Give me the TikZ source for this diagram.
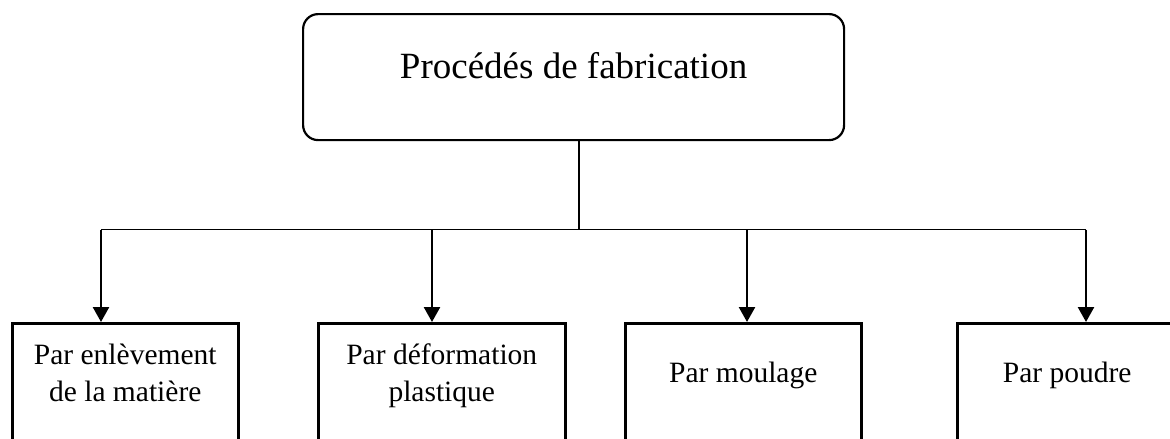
\documentclass[tikz,border=0pt]{standalone}
\usepackage{fontspec}
\setmainfont{Liberation Serif}
\usetikzlibrary{arrows.meta}
\begin{document}
\begin{tikzpicture}[x=1pt,y=-1pt,
  topbox/.style={draw, line width=2.2pt, rounded corners=15pt, inner sep=0pt,
    minimum width=541pt, text height=64pt, text depth=62pt,
    font=\fontsize{37}{44}\selectfont, align=center, anchor=north west},
  subbox/.style={draw, line width=2.5pt, inner sep=0pt, text height=78pt,
    text depth=80pt, font=\fontsize{29.5}{37}\selectfont, align=center,
    anchor=north west},
  thinline/.style={line width=1.3pt},
  arr/.style={line width=2.5pt, -{Triangle[width=16pt,length=15pt]}}]
\useasboundingbox[fill=white] (0,0) rectangle (1170,439);
\node[topbox] (top) at (302,13) {Procédés de fabrication};
\node[subbox, minimum width=226pt] (b1) at (11,322) {Par enlèvement\\de la matière};
\node[subbox, minimum width=247pt] (b2) at (317,322) {Par déformation\\plastique};
\node[subbox, minimum width=236pt, text height=59pt] (b3) at (624,322) {Par moulage};
\node[subbox, minimum width=220pt, text height=59pt] (b4) at (956,322) {Par poudre};
\coordinate (j) at (579,229.5);
\coordinate (a1) at (101,229.5);
\coordinate (a2) at (432,229.5);
\coordinate (a3) at (747,229.5);
\coordinate (a4) at (1086,229.5);
\draw[thinline] (top.south -| j) -- (j);
\draw[thinline] (a1) -- (a4);
\draw[arr] (a1) -- (a1 |- b1.north);
\draw[arr] (a2) -- (a2 |- b2.north);
\draw[arr] (a3) -- (a3 |- b3.north);
\draw[arr] (a4) -- (a4 |- b4.north);
\end{tikzpicture}
\end{document}
